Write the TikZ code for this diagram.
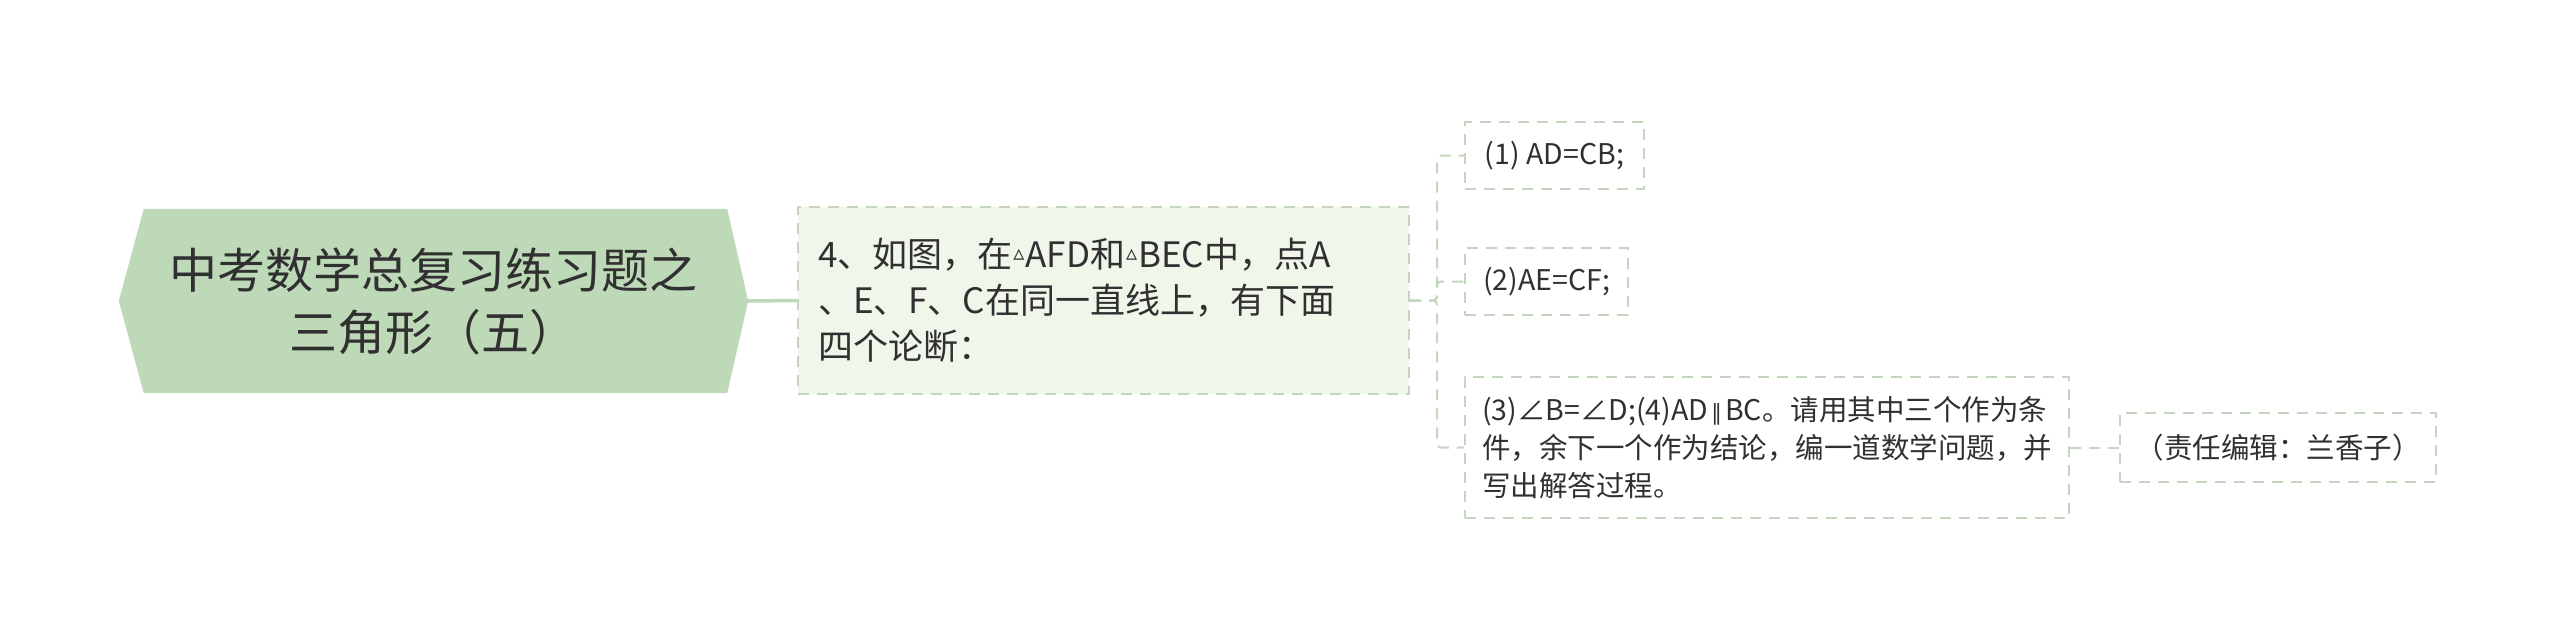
\documentclass[tikz,border=0pt]{standalone}
\usepackage{fontspec}
\setmainfont{Noto Sans CJK SC}
\newfontfamily\dv{DejaVu Sans}
\usetikzlibrary{backgrounds}
\definecolor{rootfill}{HTML}{BED9B8}
\definecolor{subfill}{HTML}{F0F6EA}
\definecolor{dashc}{HTML}{C4D6BF}
\definecolor{linec}{HTML}{BDD7B7}
\definecolor{txt}{HTML}{303030}
\newcommand{\tri}{\hspace{1pt}\raisebox{7pt}{\dv\fontsize{22}{22}\selectfont ▵}\hspace{1pt}}
\newcommand{\para}{\hspace{3pt}{\dv\fontsize{22}{22}\selectfont ∥}\hspace{3pt}}
\tikzset{
  rootbox/.style={inner sep=0pt, minimum width=629pt, minimum height=184pt, align=center, text=txt, font=\fontsize{48}{62}\selectfont},
  subbox/.style={fill=subfill, draw=dashc, line width=2pt, dash pattern=on 11pt off 8pt, inner xsep=20pt, inner ysep=0pt, align=left, text=txt, font=\fontsize{35}{46}\selectfont},
  leafbox/.style={draw=dashc, line width=2pt, dash pattern=on 11pt off 8pt, inner sep=0pt, align=left, text=txt, font=\fontsize{28.5}{38}\selectfont},
  conn/.style={draw=dashc, line width=2pt, dash pattern=on 11pt off 8pt, rounded corners=4pt},
  rootconn/.style={draw=linec, line width=3.5pt}
}
\begin{document}
\begin{tikzpicture}[x=1pt,y=-1pt]
\useasboundingbox (0,0) rectangle (2560,640);
\node[rootbox] (root) at (433.5,301) {中考数学总复习练习题之\\三角形（五）};
\begin{scope}[on background layer]
\fill[rootfill] (root.west) -- ([xshift=25pt]root.north west) -- ([xshift=-21pt]root.north east) -- (root.east) -- ([xshift=-21pt]root.south east) -- ([xshift=25pt]root.south west) -- cycle;
\end{scope}
\node[subbox, text width=571pt, minimum height=187pt] (n2) at (1103.5,300.5) {4、如图，在\tri AFD和\tri BEC中，点A\\、E、F、C在同一直线上，有下面\\四个论断：};
\node[leafbox, minimum width=179pt, minimum height=67pt] (c1) at (1554.5,155.5) {(1) AD=CB;};
\node[leafbox, minimum width=163pt, minimum height=67pt] (c2) at (1546.5,281.5) {(2)AE=CF;};
\node[leafbox, minimum width=604pt, minimum height=141pt] (c3) at (1767,447.5) {(3)∠B=∠D;(4)AD\para BC。请用其中三个作为条\\件，余下一个作为结论，编一道数学问题，并\\写出解答过程。};
\node[leafbox, minimum width=316pt, minimum height=69pt] (c4) at (2278,447.5) {（责任编辑：兰香子）};
\draw[rootconn] (root.east) -- (n2.west);
\draw[conn] (n2.east) -- ++(27,0) |- (c1.west);
\draw[conn] (n2.east) -- ++(27,0) |- (c2.west);
\draw[conn] (n2.east) -- ++(27,0) |- (c3.west);
\draw[conn] (c3.east) -- (c4.west);
\end{tikzpicture}
\end{document}
